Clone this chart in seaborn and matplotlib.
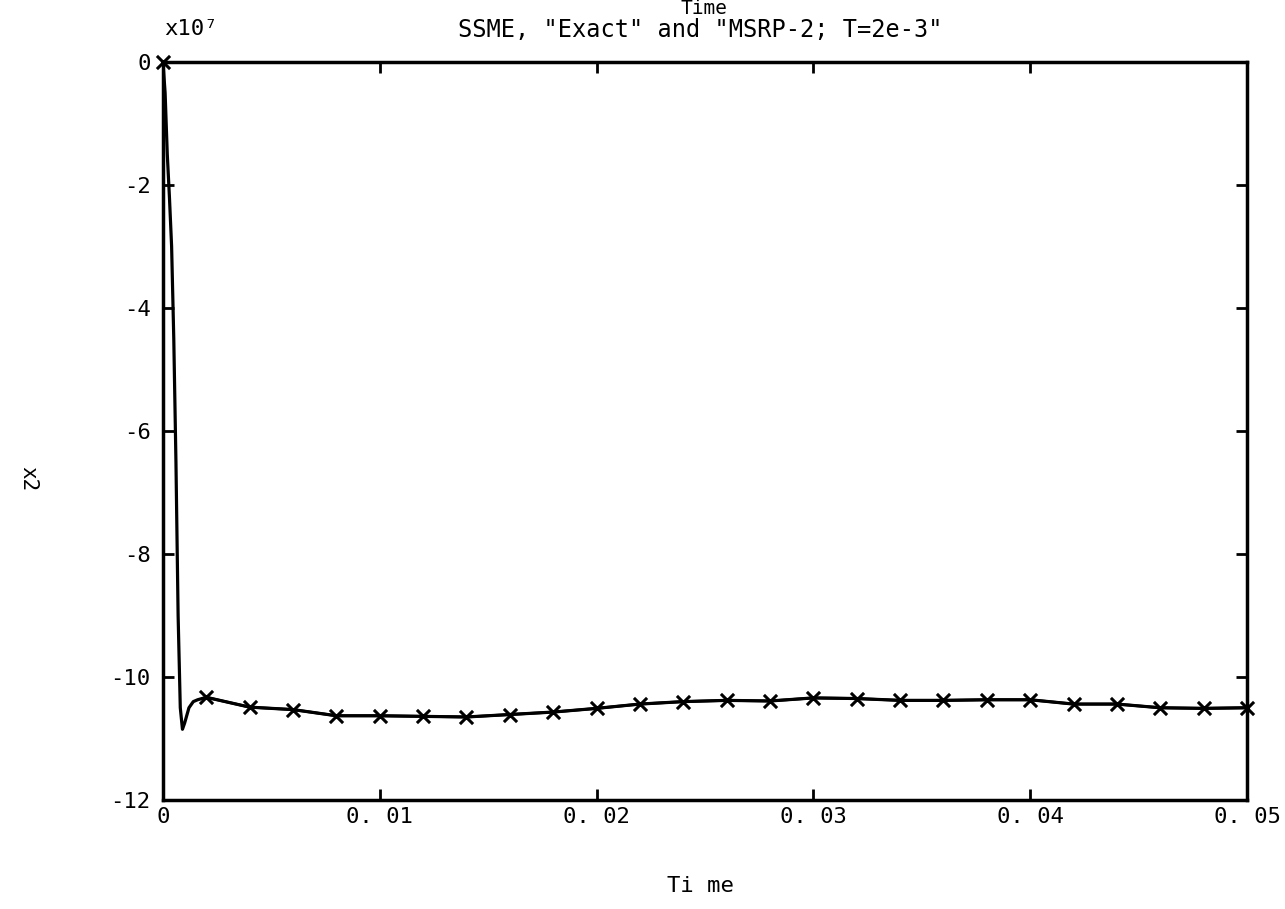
import matplotlib
matplotlib.use('Agg')
import matplotlib.pyplot as plt
import numpy as np
import pandas as pd
import seaborn as sns

#%%
'''DATA (x2 in units of 1e7)'''
#MSRP-2 samples, T = 2e-3
msrp_t = [0.000, 0.002, 0.004, 0.006, 0.008, 0.010, 0.012, 0.014, 0.016, 0.018,
          0.020, 0.022, 0.024, 0.026, 0.028, 0.030, 0.032, 0.034, 0.036, 0.038,
          0.040, 0.042, 0.044, 0.046, 0.048, 0.050]
msrp_x2 = [0.0, -10.33, -10.49, -10.53, -10.63, -10.63, -10.64, -10.65, -10.61, -10.57,
           -10.51, -10.44, -10.40, -10.38, -10.39, -10.34, -10.35, -10.38, -10.38, -10.37,
           -10.37, -10.44, -10.44, -10.50, -10.51, -10.50]

#"Exact" initial transient (before first sample)
exact_t = [0.0, 0.0001, 0.0002, 0.0003, 0.0004, 0.0005, 0.0006, 0.0007, 0.0008,
           0.0009, 0.0010, 0.0012, 0.0014, 0.0016, 0.0018]
exact_x2 = [0.0, -0.5, -1.5, -2.2, -3.0, -4.5, -6.5, -9.0, -10.5,
            -10.85, -10.75, -10.5, -10.4, -10.37, -10.35]

xtick_vals = [0.0, 0.01, 0.02, 0.03, 0.04, 0.05]
xtick_labels = ['0', '0. 01', '0. 02', '0. 03', '0. 04', '0. 05']
ytick_vals = [0, -2, -4, -6, -8, -10, -12]
ytick_labels = ['0', '-2', '-4', '-6', '-8', '-10', '-12']

exact = pd.DataFrame({'Time': exact_t + msrp_t[1:], 'x2': exact_x2 + msrp_x2[1:]})
msrp = pd.DataFrame({'Time': msrp_t, 'x2': msrp_x2})

#%%
'''PLOT'''
sns.set_style('white')
plt.rcParams['font.family'] = ['DejaVu Sans Mono', 'DejaVu Sans']
plt.rcParams['text.color'] = 'black'
plt.rcParams['xtick.color'] = 'black'
plt.rcParams['ytick.color'] = 'black'

fig = plt.figure(figsize=(12.85, 9.09), dpi=100)
ax = fig.add_axes([0.1268, 0.1199, 0.8436, 0.8119])

#Exact line
sns.lineplot(data=exact, x='Time', y='x2', color='black', linewidth=2.3,
             estimator=None, sort=False, ax=ax)
#MSRP-2 line + markers
sns.lineplot(data=msrp.iloc[1:], x='Time', y='x2', color='black', linewidth=2.0,
             estimator=None, sort=False, ax=ax)
sns.scatterplot(data=msrp, x='Time', y='x2', marker='x', color='black',
                s=90, linewidth=2.2, zorder=5, clip_on=False, ax=ax)

ax.set_xlim(0, 0.05)
ax.set_ylim(-12, 0)
ax.set_xticks(xtick_vals)
ax.set_xticklabels(xtick_labels, fontsize=16)
ax.set_yticks(ytick_vals)
ax.set_yticklabels(ytick_labels, fontsize=16)
ax.tick_params(direction='in', length=8, width=2, top=True, right=True,
               bottom=True, left=True, colors='black')
ax.tick_params(axis='y', pad=9)
ax.tick_params(axis='x', pad=5)
for sp in ax.spines.values():
    sp.set_linewidth(2.5)
    sp.set_color('black')

ax.set_xlabel('')
ax.set_ylabel('')
fig.text(0.545, 0.025, 'Ti me', fontsize=16, ha='center', va='center')
fig.text(0.022, 0.474, 'x2', fontsize=15, rotation=270, ha='center', va='center')
fig.text(0.545, 0.967, 'SSME, "Exact" and "MSRP-2; T=2e-3"', fontsize=17,
         ha='center', va='center')
fig.text(0.128, 0.968, 'x10⁷', fontsize=16, ha='left', va='center')
#top label (cut in the original scan)
fig.text(0.548, 0.991, 'Time', fontsize=14, ha='center', va='center')

fig.savefig('out.png', dpi=100)
